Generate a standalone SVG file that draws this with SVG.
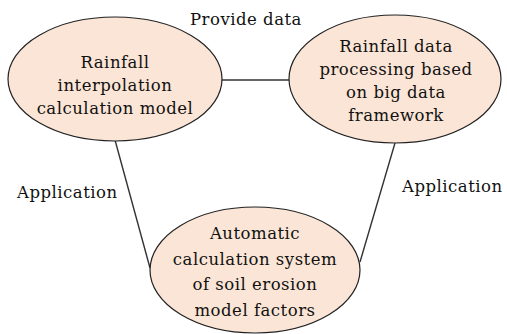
<svg xmlns="http://www.w3.org/2000/svg" width="507" height="334" viewBox="0 0 507 334">
  <style>
    .node { fill: #fbe5d6; stroke: #222; stroke-width: 1.2; }
    .edge { stroke: #333; stroke-width: 1.4; fill: none; }
    text { font-family: "DejaVu Serif", "Liberation Serif", serif; font-size: 16.5px; fill: #111; letter-spacing: 0.5px; }
    .c { text-anchor: middle; }
  </style>
  <rect width="507" height="334" fill="#ffffff"/>

  <!-- links between the three components -->
  <g id="connectors">
    <line class="edge" x1="221" y1="80" x2="290" y2="80"/>
    <line class="edge" x1="115" y1="140" x2="150" y2="268"/>
    <line class="edge" x1="395" y1="143" x2="360" y2="262"/>
  </g>

  <g id="labels">
    <text x="190" y="25">Provide data</text>
    <text x="17" y="198">Application</text>
    <text x="402" y="192">Application</text>
  </g>

  <g id="interpolation-model">
    <ellipse class="node" cx="115" cy="79" rx="107" ry="62"/>
    <text class="c" x="115" y="68">Rainfall</text>
    <text class="c" x="115" y="91">interpolation</text>
    <text class="c" x="115" y="114">calculation model</text>
  </g>

  <g id="big-data-processing">
    <ellipse class="node" cx="395" cy="79" rx="106" ry="64"/>
    <text class="c" x="396" y="52">Rainfall data</text>
    <text class="c" x="396" y="75">processing based</text>
    <text class="c" x="396" y="98">on big data</text>
    <text class="c" x="396" y="121">framework</text>
  </g>

  <g id="erosion-factor-system">
    <ellipse class="node" cx="255" cy="270" rx="105" ry="63"/>
    <text class="c" x="255" y="239">Automatic</text>
    <text class="c" x="255" y="265">calculation system</text>
    <text class="c" x="255" y="290">of soil erosion</text>
    <text class="c" x="255" y="316">model factors</text>
  </g>
</svg>
